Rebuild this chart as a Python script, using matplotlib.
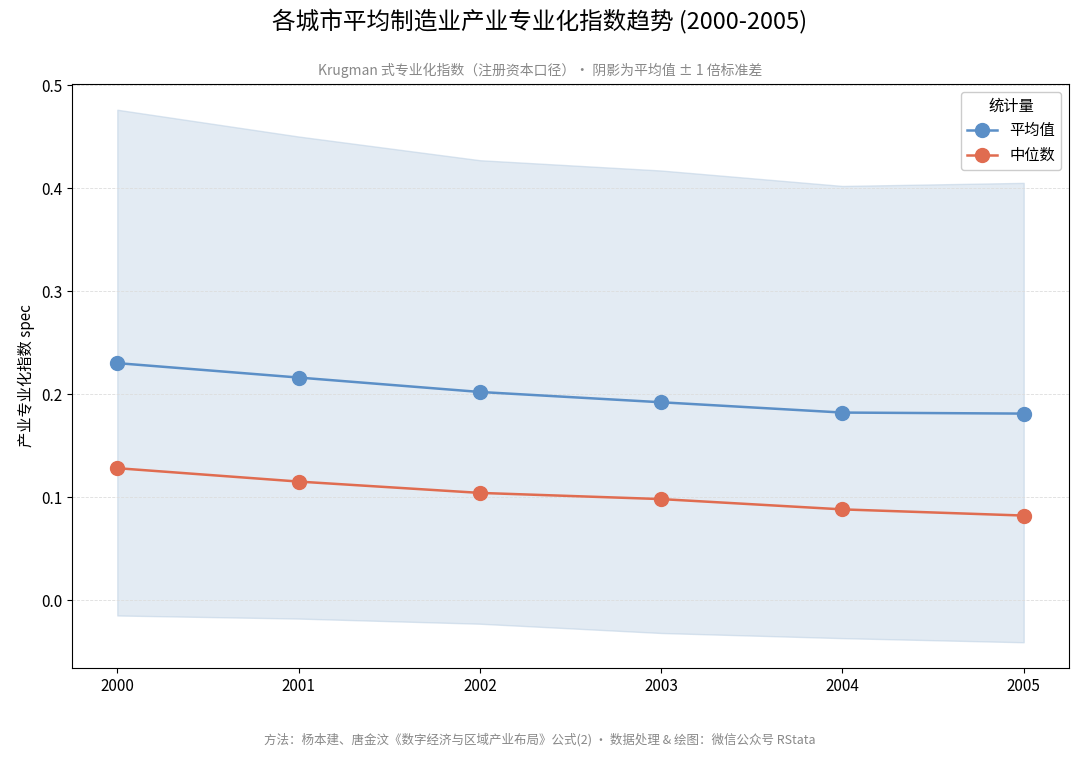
import matplotlib
matplotlib.use("Agg")
import matplotlib.pyplot as plt

plt.rcParams['font.family'] = ['Noto Sans CJK SC', 'DejaVu Sans']

years = [2000, 2001, 2002, 2003, 2004, 2005]
mean_vals = [0.230, 0.216, 0.202, 0.192, 0.182, 0.181]
median_vals = [0.128, 0.115, 0.104, 0.098, 0.088, 0.082]
upper = [0.476, 0.450, 0.427, 0.417, 0.402, 0.405]
lower = [-0.015, -0.018, -0.023, -0.032, -0.037, -0.041]

fig = plt.figure(figsize=(10.8, 7.59), dpi=100)
ax = fig.add_axes([72/1080, 1-668/759, (1069-72)/1080, (668-84)/759])

ax.fill_between(years, lower, upper, color='#c9d9e8', alpha=0.5, edgecolor='#b8cde2', linewidth=1)
ax.plot(years, mean_vals, '-o', color='#5b8fc7', lw=1.8, ms=10, label='平均值')
ax.plot(years, median_vals, '-o', color='#e06c50', lw=1.8, ms=10, label='中位数')

ax.set_xlim(1999.75, 2005.25)
ax.set_ylim(-0.066, 0.501)
ax.set_xticks(years)
ax.set_yticks([0.0, 0.1, 0.2, 0.3, 0.4, 0.5])
ax.set_yticklabels(['0.0', '0.1', '0.2', '0.3', '0.4', '0.5'])
ax.tick_params(labelsize=11)
ax.grid(axis='y', color='#dddddd', linestyle='--', linewidth=0.6)
ax.set_ylabel('产业专业化指数 spec', fontsize=11)

leg = ax.legend(title='统计量', loc='upper right', fontsize=11, title_fontsize=11, framealpha=1)

fig.text(0.5, 1-22/759, '各城市平均制造业产业专业化指数趋势 (2000-2005)', ha='center', va='center', fontsize=17)
fig.text(0.5, 1-70/759, 'Krugman 式专业化指数（注册资本口径）· 阴影为平均值 ± 1 倍标准差', ha='center', va='center', fontsize=10, color='#888888')
fig.text(0.5, 1-740/759, '方法：杨本建、唐金汶《数字经济与区域产业布局》公式(2) · 数据处理 & 绘图：微信公众号 RStata', ha='center', va='center', fontsize=9, color='#888888')

fig.savefig('out.png', dpi=100)
